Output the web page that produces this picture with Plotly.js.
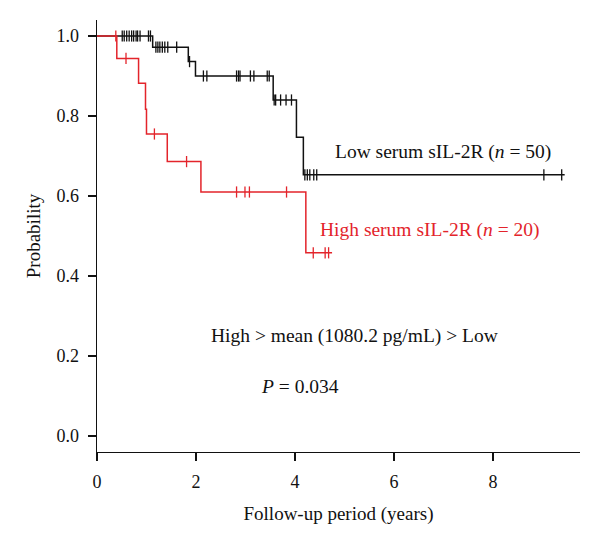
<!DOCTYPE html>
<html>
<head>
<meta charset="utf-8">
<script src="https://cdn.plot.ly/plotly-3.0.1.min.js"></script>
<style>html,body{margin:0;padding:0;background:#fff;}#chart{width:600px;height:545px;}</style>
</head>
<body>
<div id="chart"></div>
<script>
// Low serum sIL-2R (n = 50): step times and survival probabilities
var lowTimes = [0, 1.125, 1.845, 1.99, 3.56, 4.03, 4.17, 9.45];
var lowProb  = [1.0, 0.972, 0.936, 0.90, 0.84, 0.747, 0.653, 0.653];
var lowCensor = [0.51,0.55,0.60,0.65,0.70,0.74,0.79,0.82,0.87,1.04,1.08,
                 1.19,1.23,1.27,1.32,1.37,1.43,1.61,1.87,
                 2.15,2.22,2.82,2.86,2.89,3.10,3.17,3.44,3.48,
                 3.58,3.61,3.71,3.82,3.93,
                 4.20,4.25,4.30,4.38,4.44,9.03,9.39];
// High serum sIL-2R (n = 20)
var highTimes = [0, 0.40, 0.84, 0.98, 1.0, 1.42, 2.10, 4.22, 4.75];
var highProb  = [1.0, 0.944, 0.882, 0.817, 0.755, 0.686, 0.61, 0.458, 0.458];
var highCensor = [0.38, 0.586, 1.16, 1.81, 2.82, 2.99, 3.08, 3.83, 4.37, 4.61, 4.68];

var yTicks = [0, 0.2, 0.4, 0.6, 0.8, 1.0];
var xTicks = [0, 2, 4, 6, 8];

function stepY(xs, ys, t) {
  var v = ys[0];
  for (var i = 0; i < xs.length; i++) { if (xs[i] <= t) v = ys[i]; }
  return v;
}

var BLACK = '#111111', RED = '#e3242b';
var FONT = 'Liberation Serif, Times New Roman, serif';

var traces = [
  {x: lowTimes, y: lowProb, mode: 'lines', line: {shape: 'hv', color: BLACK, width: 1.5}, hoverinfo: 'skip'},
  {x: lowCensor, y: lowCensor.map(function(t){return stepY(lowTimes, lowProb, t);}), mode: 'markers',
   marker: {symbol: 'line-ns', size: 8, line: {color: BLACK, width: 1.3}}, hoverinfo: 'skip'},
  {x: highTimes, y: highProb, mode: 'lines', line: {shape: 'hv', color: RED, width: 1.5}, hoverinfo: 'skip'},
  {x: highCensor, y: highCensor.map(function(t){return stepY(highTimes, highProb, t);}), mode: 'markers',
   marker: {symbol: 'line-ns', size: 8, line: {color: RED, width: 1.3}}, hoverinfo: 'skip'}
];

var layout = {
  width: 600, height: 545,
  margin: {l: 97, r: 20, t: 20, b: 93},
  paper_bgcolor: '#fff', plot_bgcolor: '#fff',
  showlegend: false,
  font: {family: FONT, size: 18, color: '#111'},
  xaxis: {
    range: [0, 9.76], tickvals: xTicks, ticktext: xTicks.map(String),
    showgrid: false, zeroline: false, showline: true, linecolor: '#111', linewidth: 1.3,
    ticks: 'outside', ticklen: 8, tickwidth: 1.3, tickcolor: '#111', ticklabelstandoff: 5,
    tickfont: {family: FONT, size: 18, color: '#111'},
    title: {text: 'Follow-up period (years)', font: {family: FONT, size: 19, color: '#111'}, standoff: 15}
  },
  yaxis: {
    range: [-0.04, 1.04], tickvals: yTicks, ticktext: yTicks.map(function(v){return v.toFixed(1);}),
    showgrid: false, zeroline: false, showline: true, linecolor: '#111', linewidth: 1.3,
    ticks: 'outside', ticklen: 8, tickwidth: 1.3, tickcolor: '#111', ticklabelstandoff: 5,
    tickfont: {family: FONT, size: 18, color: '#111'},
    title: {text: 'Probability', font: {family: FONT, size: 19, color: '#111'}, standoff: 11}
  },
  annotations: [
    {x: 6.99, y: 0.71, xref: 'x', yref: 'y', showarrow: false,
     text: 'Low serum sIL-2R (<i>n</i> = 50)', font: {family: FONT, size: 19.5, color: BLACK}},
    {x: 6.73, y: 0.515, xref: 'x', yref: 'y', showarrow: false,
     text: 'High serum sIL-2R (<i>n</i> = 20)', font: {family: FONT, size: 19.5, color: RED}},
    {x: 5.21, y: 0.25, xref: 'x', yref: 'y', showarrow: false,
     text: 'High &gt; mean (1080.2 pg/mL) &gt; Low', font: {family: FONT, size: 19.5, color: BLACK}},
    {x: 4.1, y: 0.125, xref: 'x', yref: 'y', showarrow: false,
     text: '<i>P</i> = 0.034', font: {family: FONT, size: 19.5, color: BLACK}}
  ]
};

Plotly.newPlot('chart', traces, layout, {staticPlot: true, displayModeBar: false});
</script>
</body>
</html>
